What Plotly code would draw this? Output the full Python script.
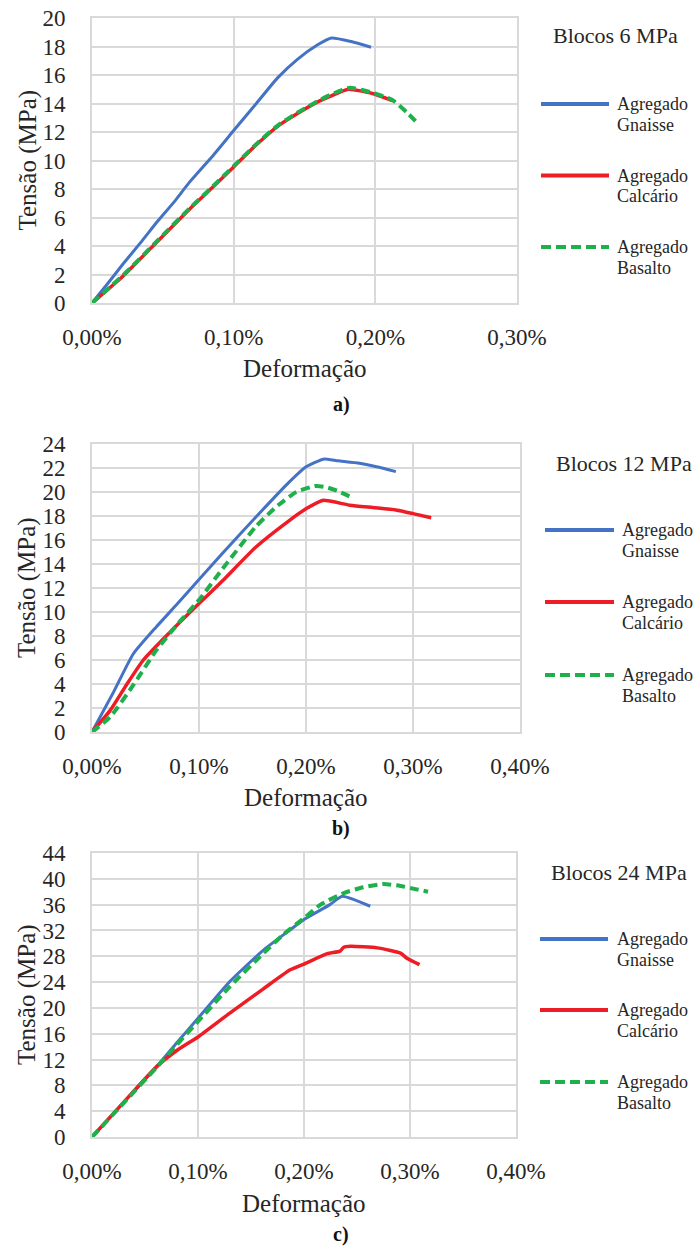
import numpy as np
import plotly.graph_objects as go

# ---------------- data (strain in %, stress in MPa) ----------------
series_names = ["Agregado Gnaisse", "Agregado Calcário", "Agregado Basalto"]
panel_titles = ["Blocos 6 MPa", "Blocos 12 MPa", "Blocos 24 MPa"]
panel_letters = ["a)", "b)", "c)"]

# Panel a) Blocos 6 MPa
a_gnaisse_x = [0, 0.011, 0.022, 0.034, 0.046, 0.058, 0.069, 0.085, 0.100, 0.116, 0.131, 0.145, 0.159, 0.169, 0.183, 0.197]
a_gnaisse_y = [0, 1.35, 2.75, 4.2, 5.7, 7.1, 8.5, 10.3, 12.1, 14.0, 15.8, 17.1, 18.1, 18.6, 18.35, 17.95]
a_calcario_x = [0, 0.022, 0.046, 0.069, 0.085, 0.100, 0.116, 0.131, 0.145, 0.159, 0.168, 0.181, 0.198, 0.212]
a_calcario_y = [0, 1.9, 4.3, 6.6, 8.1, 9.55, 11.1, 12.4, 13.3, 14.1, 14.5, 15.0, 14.7, 14.2]
a_basalto_x = [0, 0.022, 0.046, 0.069, 0.085, 0.100, 0.116, 0.131, 0.145, 0.159, 0.168, 0.182, 0.198, 0.212, 0.222, 0.230]
a_basalto_y = [0, 1.95, 4.35, 6.65, 8.15, 9.6, 11.15, 12.45, 13.35, 14.15, 14.6, 15.1, 14.75, 14.25, 13.4, 12.6]

# Panel b) Blocos 12 MPa
b_gnaisse_x = [0, 0.020, 0.0385, 0.060, 0.080, 0.100, 0.122, 0.153, 0.172, 0.184, 0.200, 0.212, 0.217, 0.230, 0.250, 0.266, 0.284]
b_gnaisse_y = [0, 3.3, 6.5, 8.75, 10.7, 12.7, 14.9, 17.9, 19.7, 20.8, 22.1, 22.6, 22.75, 22.6, 22.4, 22.1, 21.7]
b_calcario_x = [0, 0.017, 0.032, 0.048, 0.0727, 0.100, 0.122, 0.153, 0.184, 0.200, 0.2155, 0.241, 0.2625, 0.284, 0.300, 0.317]
b_calcario_y = [0, 1.8, 3.9, 6.0, 8.3, 10.7, 12.6, 15.4, 17.6, 18.6, 19.3, 18.9, 18.7, 18.5, 18.2, 17.85]
b_basalto_x = [0, 0.017, 0.0385, 0.060, 0.082, 0.100, 0.122, 0.153, 0.172, 0.191, 0.209, 0.219, 0.229, 0.244]
b_basalto_y = [0, 1.25, 3.9, 6.8, 9.2, 11.0, 13.6, 17.1, 18.75, 20.0, 20.5, 20.4, 20.1, 19.5]

# Panel c) Blocos 24 MPa
c_gnaisse_x = [0, 0.030, 0.061, 0.080, 0.100, 0.130, 0.162, 0.187, 0.200, 0.2245, 0.236, 0.2625]
c_gnaisse_y = [0, 5.4, 10.9, 14.6, 18.4, 24.1, 29.0, 32.1, 33.7, 36.0, 37.3, 35.75]
c_calcario_x = [0, 0.030, 0.061, 0.080, 0.100, 0.130, 0.162, 0.187, 0.200, 0.222, 0.234, 0.2375, 0.244, 0.269, 0.291, 0.297, 0.309]
c_calcario_y = [0, 5.4, 10.9, 13.4, 15.5, 19.2, 23.0, 25.9, 26.8, 28.4, 28.8, 29.4, 29.55, 29.3, 28.5, 27.7, 26.7]
c_basalto_x = [0, 0.030, 0.061, 0.080, 0.100, 0.130, 0.162, 0.180, 0.200, 0.2156, 0.2375, 0.256, 0.275, 0.291, 0.305, 0.317]
c_basalto_y = [0, 5.3, 10.8, 14.3, 17.9, 23.3, 28.5, 31.3, 33.9, 36.0, 37.8, 38.7, 39.2, 38.9, 38.4, 38.0]

# axis extents and ticks
x_max_pct = [0.30, 0.40, 0.40]
x_tick_pct = [[0, 0.10, 0.20, 0.30], [0, 0.10, 0.20, 0.30, 0.40], [0, 0.10, 0.20, 0.30, 0.40]]
y_max = [20, 24, 44]
y_step = [2, 2, 4]

panels = [
    [(a_gnaisse_x, a_gnaisse_y), (a_calcario_x, a_calcario_y), (a_basalto_x, a_basalto_y)],
    [(b_gnaisse_x, b_gnaisse_y), (b_calcario_x, b_calcario_y), (b_basalto_x, b_basalto_y)],
    [(c_gnaisse_x, c_gnaisse_y), (c_calcario_x, c_calcario_y), (c_basalto_x, c_basalto_y)],
]

# ---------------- styling ----------------
W, H = 700, 1247
colors = ["#4472C4", "#EE1C25", "#1DB04B"]
widths = [3, 3.5, 4]
dashes = ["solid", "solid", "9px,5px"]
FONT = "Liberation Serif, Times New Roman, Tinos, DejaVu Serif, serif"
TXT = "#262626"
GRID = "#D9D9D9"

# plot area pixel boxes (left, right, top, bottom)
boxes = [(92, 517, 18, 303), (92, 520, 444, 732), (92, 516, 853, 1137)]
# legend pixel positions
leg_title = [(615, 36), (624, 463), (619, 872)]
leg_line_x = [(541, 609), (545, 614), (540, 608)]
leg_line_y = [[104, 175.5, 247], [530, 602, 675], [939, 1010, 1082]]
leg_text_x = [615, 620, 615]
xtitle_y = [368, 797, 1203]
letter_y = [405, 828, 1234]


def px(x):
    return x / W


def py(y):
    return 1 - y / H


def note(text, x, y, size, xanchor="center", angle=0, color=TXT):
    return dict(text=text, x=px(x), y=py(y), xref="paper", yref="paper",
                xanchor=xanchor, yanchor="middle", showarrow=False, textangle=angle,
                font=dict(family=FONT, size=size, color=color))


fig = go.Figure()
annotations = []
shapes = []

for i, series in enumerate(panels):
    xa = "x" if i == 0 else f"x{i+1}"
    ya = "y" if i == 0 else f"y{i+1}"
    for j in [0, 1, 2]:
        xs, ys = series[j]
        fig.add_trace(go.Scatter(
            x=np.array(xs) / 100.0, y=ys, mode="lines", name=series_names[j],
            line=dict(color=colors[j], width=widths[j], dash=dashes[j],
                      shape="spline", smoothing=0.5),
            xaxis=xa, yaxis=ya, showlegend=False, hoverinfo="skip"))
    l, r, t, b = boxes[i]
    axis_common = dict(showgrid=True, gridcolor=GRID, gridwidth=1.5, zeroline=False,
                       showline=True, mirror=True, linecolor=GRID, linewidth=2,
                       ticks="", tickfont=dict(family=FONT, size=23, color=TXT),
                       automargin=False)
    fig.update_layout(**{
        ("xaxis" if i == 0 else f"xaxis{i+1}"): dict(
            domain=[px(l), px(r)], range=[0, x_max_pct[i] / 100.0],
            tickvals=[v / 100.0 for v in x_tick_pct[i]], tickformat=".2%",
            ticklabelstandoff=12, anchor=ya, **axis_common),
        ("yaxis" if i == 0 else f"yaxis{i+1}"): dict(
            domain=[py(b), py(t)], range=[0, y_max[i]], dtick=y_step[i], tick0=0,
            ticklabelstandoff=20, anchor=xa, **axis_common),
    })

    # axis titles
    annotations.append(note("Tensão (MPa)", 27, (t + b) / 2, 25, angle=-90))
    annotations.append(note("Deformação", (l + r) / 2, xtitle_y[i], 25))
    annotations.append(note("<b>" + panel_letters[i] + "</b>", 341, letter_y[i], 20, color="#111"))
    # legend
    annotations.append(note(panel_titles[i], leg_title[i][0], leg_title[i][1], 22))
    for j in range(3):
        yy = leg_line_y[i][j]
        shapes.append(dict(type="line", xref="paper", yref="paper",
                           x0=px(leg_line_x[i][0]), x1=px(leg_line_x[i][1]),
                           y0=py(yy), y1=py(yy),
                           line=dict(color=colors[j], width=4,
                                     dash="10px,5px" if j == 2 else "solid")))
        first, second = series_names[j].split(" ")
        annotations.append(note(first, leg_text_x[i], yy, 18, xanchor="left"))
        annotations.append(note(second, leg_text_x[i], yy + 21, 18, xanchor="left"))

fig.update_layout(width=W, height=H, margin=dict(l=0, r=0, t=0, b=0, pad=0),
                  paper_bgcolor="white", plot_bgcolor="white", separators=",.",
                  annotations=annotations, shapes=shapes, showlegend=False)

fig.write_html("out.html")
